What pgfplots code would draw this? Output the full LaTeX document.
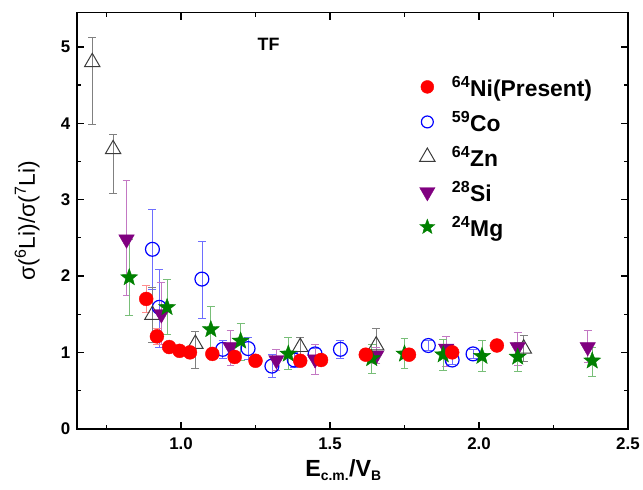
\documentclass[border=0pt]{standalone}
\usepackage{pgfplots}
\pgfplotsset{compat=1.18}
\usepackage{fontspec}
\setmainfont{Liberation Sans}
\definecolor{niC}{RGB}{255,0,0}
\definecolor{niE}{RGB}{255,140,140}
\definecolor{coC}{RGB}{0,0,255}
\definecolor{coE}{RGB}{110,110,255}
\definecolor{znC}{RGB}{60,60,60}
\definecolor{znE}{RGB}{128,128,128}
\definecolor{siC}{RGB}{128,0,128}
\definecolor{siE}{RGB}{195,120,195}
\definecolor{mgC}{RGB}{0,128,0}
\definecolor{mgE}{RGB}{120,190,120}
\pgfdeclareplotmark{fstar}{%
  \pgfpathmoveto{\pgfqpointpolar{90}{\pgfplotmarksize}}%
  \pgfpathlineto{\pgfqpointpolar{126}{0.42\pgfplotmarksize}}%
  \pgfpathlineto{\pgfqpointpolar{162}{\pgfplotmarksize}}%
  \pgfpathlineto{\pgfqpointpolar{198}{0.42\pgfplotmarksize}}%
  \pgfpathlineto{\pgfqpointpolar{234}{\pgfplotmarksize}}%
  \pgfpathlineto{\pgfqpointpolar{270}{0.42\pgfplotmarksize}}%
  \pgfpathlineto{\pgfqpointpolar{306}{\pgfplotmarksize}}%
  \pgfpathlineto{\pgfqpointpolar{342}{0.42\pgfplotmarksize}}%
  \pgfpathlineto{\pgfqpointpolar{18}{\pgfplotmarksize}}%
  \pgfpathlineto{\pgfqpointpolar{54}{0.42\pgfplotmarksize}}%
  \pgfpathclose
  \pgfusepathqfillstroke}
\begin{document}
\begin{tikzpicture}
\begin{axis}[
  width=555pt, height=419pt, scale only axis,
  xmin=0.65, xmax=2.5, ymin=0, ymax=5.45,
  xtick={1,1.5,2,2.5}, xticklabels={1.0,1.5,2.0,2.5},
  ytick={0,1,2,3,4,5}, yticklabels={0,1,2,3,4,5},
  minor xtick={0.75,1.25,1.75,2.25},
  minor ytick={0.5,1.5,2.5,3.5,4.5},
  tick align=inside,
  major tick length=7pt, minor tick length=4pt,
  tick style={line width=1.3pt, black},
  axis line style={line width=1.6pt},
  ticklabel style={font=\bfseries\fontsize{17}{17}\selectfont},
  xticklabel style={yshift=-6pt},
  yticklabel style={xshift=-3pt},
  xlabel={\bfseries E\textsubscript{\fontsize{14}{14}\selectfont c.m.}/V\textsubscript{\fontsize{14}{14}\selectfont B}},
  ylabel={σ(\textsuperscript{6}Li)/σ(\textsuperscript{7}Li)},
  xlabel style={font=\fontsize{23.5}{23.5}\selectfont, at={(axis description cs:0.484,-0.115)}, anchor=base},
  ylabel style={font=\fontsize{23}{23}\selectfont, at={(axis description cs:-0.09,0.5)}, anchor=center},
  legend style={draw=none, fill=none, at={(axis cs:1.79,4.66)}, anchor=north west,
    font=\bfseries\fontsize{23}{23}\selectfont, row sep=11.5pt,
    nodes={inner sep=1pt},
    /tikz/every odd column/.append style={column sep=16pt}},
  legend cell align=left,
  clip=false,
]
\addlegendimage{only marks, mark=*, mark size=6.5pt, color=niC}
\addlegendentry{\textsuperscript{64}Ni(Present)}
\addlegendimage{only marks, mark=o, mark size=6pt, color=coC, mark options={line width=1.2pt}}
\addlegendentry{\textsuperscript{59}Co}
\addlegendimage{only marks, mark=triangle, mark size=9pt, color=znC, mark options={line width=1pt}}
\addlegendentry{\textsuperscript{64}Zn}
\addlegendimage{only marks, mark=triangle*, mark size=9pt, color=siC, mark options={rotate=180}}
\addlegendentry{\textsuperscript{28}Si}
\addlegendimage{only marks, mark=fstar, mark size=8pt, color=mgC}
\addlegendentry{\textsuperscript{24}Mg}

% Co
\addplot[forget plot, only marks, mark=o, mark size=7pt, color=coC, mark options={line width=1.2pt},
  error bars/.cd, y dir=both, y explicit,
  error bar style={color=coE, line width=0.8pt},
  error mark options={rotate=90, mark size=4pt, color=coE, line width=0.8pt}]
  table[x=x, y=y, y error plus=ep, y error minus=em] {
x y ep em
0.904 2.35 0.52 0.52
0.927 1.59 0.50 0.52
1.070 1.96 0.50 0.51
1.140 1.04 0.12 0.12
1.225 1.05 0.14 0.14
1.305 0.82 0.15 0.15
1.380 0.90 0.10 0.10
1.450 0.98 0.07 0.07
1.535 1.04 0.12 0.12
1.830 1.09 0.07 0.07
1.910 0.90 0.06 0.06
1.980 0.98 0.06 0.06
};
% Zn
\addplot[forget plot, only marks, mark=triangle, mark size=9pt, color=znC, mark options={line width=1pt},
  error bars/.cd, y dir=both, y explicit,
  error bar style={color=znE, line width=0.8pt},
  error mark options={rotate=90, mark size=4pt, color=znE, line width=0.8pt}]
  table[x=x, y=y, y error plus=ep, y error minus=em] {
x y ep em
0.702 4.80 0.32 0.81
0.772 3.66 0.19 0.58
0.904 1.49 0.36 0.36
1.048 1.11 0.16 0.32
1.400 1.07 0.13 0.13
1.655 1.09 0.23 0.23
2.150 1.05 0.17 0.17
};
% Si
\addplot[forget plot, only marks, mark=triangle*, mark size=9pt, color=siC, mark options={rotate=180},
  error bars/.cd, y dir=both, y explicit,
  error bar style={color=siE, line width=0.8pt},
  error mark options={rotate=90, mark size=4pt, color=siE, line width=0.8pt}]
  table[x=x, y=y, y error plus=ep, y error minus=em] {
x y ep em
0.817 2.48 0.77 0.73
0.934 1.50 0.42 0.40
1.166 1.07 0.22 0.24
1.320 0.90 0.14 0.14
1.450 0.91 0.20 0.20
1.655 0.96 0.10 0.10
1.890 1.05 0.16 0.24
2.130 1.07 0.19 0.24
2.365 1.07 0.22 0.20
};
% Mg
\addplot[forget plot, only marks, mark=fstar, mark size=9pt, color=mgC,
  error bars/.cd, y dir=both, y explicit,
  error bar style={color=mgE, line width=0.8pt},
  error mark options={rotate=90, mark size=4pt, color=mgE, line width=0.8pt}]
  table[x=x, y=y, y error plus=ep, y error minus=em] {
x y ep em
0.826 1.98 0.50 0.49
0.953 1.59 0.37 0.36
1.100 1.30 0.30 0.30
1.200 1.15 0.23 0.25
1.360 0.98 0.22 0.20
1.640 0.92 0.19 0.20
1.750 0.98 0.20 0.19
1.880 0.97 0.20 0.20
2.010 0.95 0.21 0.20
2.130 0.94 0.19 0.19
2.380 0.89 0.17 0.20
};
% Ni
\addplot[forget plot, only marks, mark=*, mark size=7pt, color=niC,
  error bars/.cd, y dir=both, y explicit,
  error bar style={color=niE, line width=0.8pt},
  error mark options={rotate=90, mark size=4pt, color=niE, line width=0.8pt}]
  table[x=x, y=y, y error plus=ep, y error minus=em] {
x y ep em
0.883 1.70 0.18 0.18
0.919 1.21 0.10 0.10
0.960 1.07 0.05 0.05
0.995 1.02 0.04 0.04
1.030 1.00 0.04 0.04
1.105 0.98 0.04 0.04
1.180 0.94 0.05 0.05
1.250 0.89 0.04 0.04
1.400 0.89 0.04 0.04
1.470 0.90 0.04 0.04
1.620 0.97 0.04 0.04
1.765 0.97 0.04 0.04
1.910 1.00 0.04 0.04
2.060 1.09 0.04 0.04
};
\node[font=\bfseries\fontsize{18}{18}\selectfont] at (axis cs:1.294,5.03) {TF};
\end{axis}
\path ([xshift=-77.3pt,yshift=-61.3pt]current axis.south west) rectangle ([xshift=11pt,yshift=12.7pt]current axis.north east);
\end{tikzpicture}
\end{document}
